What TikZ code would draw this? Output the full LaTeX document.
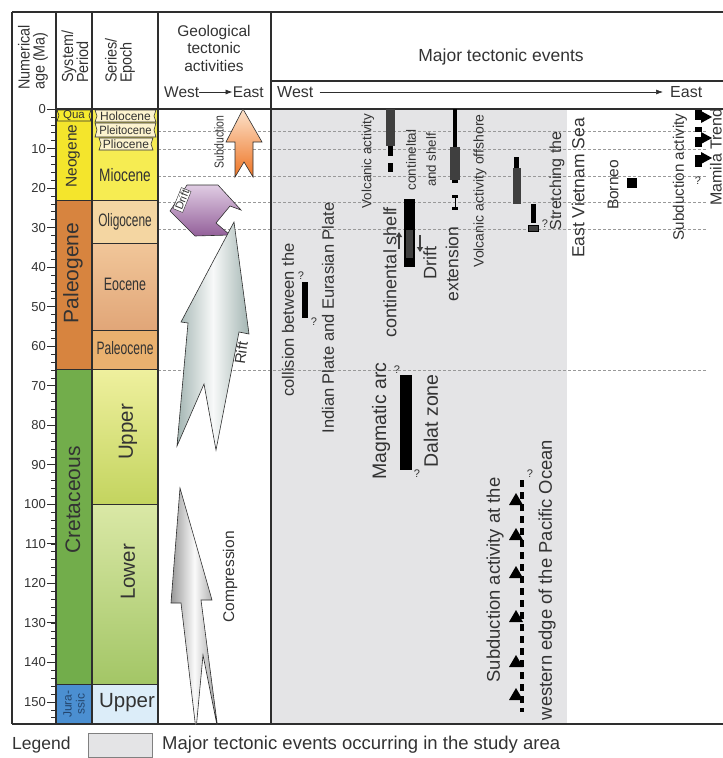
\documentclass[tikz,border=0pt]{standalone}
\usepackage{fontspec}
\setmainfont{Liberation Sans}
\usetikzlibrary{arrows.meta}

\definecolor{txtgray}{HTML}{333333}
\definecolor{linegray}{HTML}{2E2E2E}
\definecolor{evgray}{HTML}{E4E4E6}
\definecolor{quaYellow}{HTML}{F7EC2E}
\definecolor{neoYellow}{HTML}{F4E52C}
\definecolor{mioYellow}{HTML}{F6EC52}
\definecolor{holoCream}{HTML}{FCF3CE}
\definecolor{paleoBrown}{HTML}{D7843F}
\definecolor{oligoTan}{HTML}{F4D6A2}
\definecolor{eoTop}{HTML}{F1C699}
\definecolor{eoBot}{HTML}{E1A678}
\definecolor{paleoceneTan}{HTML}{EAB16F}
\definecolor{cretGreen}{HTML}{72AD4B}
\definecolor{upTop}{HTML}{EFF09E}
\definecolor{upBot}{HTML}{C3D45F}
\definecolor{lowTop}{HTML}{DAE8A6}
\definecolor{lowBot}{HTML}{A3C666}
\definecolor{juraBlue}{HTML}{4B8FD1}
\definecolor{juraText}{HTML}{24466E}
\definecolor{juraPale}{HTML}{DCEDF9}
\definecolor{subTop}{HTML}{FCE3CC}
\definecolor{subBot}{HTML}{EE7424}
\definecolor{driftTop}{HTML}{E0CCE3}
\definecolor{driftBot}{HTML}{93609A}
\definecolor{riftSide}{HTML}{A3B5B2}
\definecolor{compSide}{HTML}{999999}
\definecolor{barGray}{HTML}{3F3F3F}

\newcommand{\fsz}[2]{\fontsize{#1}{#2}\selectfont}

\tikzset{
  frameline/.style={linegray, line width=1.1pt},
  ageline/.style={gray!80, densely dashed, line width=0.5pt},
  vlabel/.style={rotate=90, inner sep=0pt, text=txtgray},
  hlabel/.style={inner sep=0pt, text=txtgray},
  qmark/.style={inner sep=0pt, text=txtgray, font=\fsz{11}{12}},
  epochbox/.style={draw=linegray, line width=0.6pt, fill=holoCream},
  evbar/.style={fill=black},
  evbargray/.style={fill=barGray},
  tooth/.style={fill=black},
  bigarrow/.style={draw=linegray, line width=0.6pt},
  halfarrow/.style={-{Triangle[length=5pt,width=6pt]}, barGray, line width=1.5pt}
}

\begin{document}
\begin{tikzpicture}[x=1pt, y=-1pt]
\useasboundingbox (0,0) rectangle (723,758);

\fill[neoYellow] (56,109) rectangle (92,200);
\fill[paleoBrown] (56,200) rectangle (92,369);
\fill[cretGreen] (56,369) rectangle (92,684);
\fill[juraBlue] (56,684) rectangle (92,724);
\fill[mioYellow] (92,109) rectangle (158,200);
\fill[oligoTan] (92,200) rectangle (158,243);
\shade[top color=eoTop, bottom color=eoBot] (92,243) rectangle (158,330);
\fill[paleoceneTan] (92,330) rectangle (158,369);
\shade[top color=upTop, bottom color=upBot] (92,369) rectangle (158,504);
\shade[top color=lowTop, bottom color=lowBot] (92,504) rectangle (158,684);
\fill[juraPale] (92,684) rectangle (158,724);
\fill[evgray] (271,109) rectangle (567,724);

\foreach \yy in {200,369,684} \draw[linegray, line width=0.8pt] (56,\yy) -- (158,\yy);
\foreach \yy in {243,330,504} \draw[linegray, line width=0.8pt] (92,\yy) -- (158,\yy);
\foreach \yy in {131,149,176,202,229,370} \draw[ageline] (158,\yy) -- (707,\yy);

\draw[frameline] (12,12) -- (723,12);
\draw[frameline] (12,724) -- (723,724);
\draw[frameline] (271,81) -- (723,81);
\draw[frameline] (56,109) -- (723,109);
\foreach \xx in {12,56,92,158,271} \draw[frameline] (\xx,12) -- (\xx,724);

\foreach \a in {0,2,...,154} \draw[linegray, line width=0.6pt] (51,{109+3.953*\a}) -- (56,{109+3.953*\a});
\foreach \a in {0,10,...,150} {
  \draw[linegray, line width=0.8pt] (47,{109+3.953*\a}) -- (56,{109+3.953*\a});
  \node[hlabel, anchor=east, font=\fsz{13}{14}] (age\a) at (46,{109+3.953*\a}) {\a};
}

\node[vlabel, anchor=west, align=left, font=\fsz{16}{15}, xscale=0.9] (ageHead) at (33,90) {Numerical\\age (Ma)};
\node[vlabel, anchor=west, align=left, font=\fsz{16}{15}, xscale=0.9] (periodHead) at (75,83) {System/\\Period};
\node[vlabel, anchor=west, align=left, font=\fsz{16}{15}, xscale=0.9] (seriesHead) at (120,83) {Series/\\Epoch};
\node[hlabel, align=center, font=\fsz{15.5}{17.5}] (geoHead) at (214,48) {Geological\\tectonic\\activities};
\node[hlabel, anchor=west, font=\fsz{15.5}{16}] (westGeo) at (164,92) {West};
\node[hlabel, anchor=east, font=\fsz{15.5}{16}] (eastGeo) at (264,92) {East};
\draw[-{Latex[length=7pt,width=5pt]}, linegray, line width=0.8pt] (westGeo.east) -- (eastGeo.west);
\node[hlabel, font=\fsz{17.5}{18}] (majorHead) at (501,57) {Major tectonic events};
\node[hlabel, anchor=west, font=\fsz{16}{17}] (westMajor) at (277,92) {West};
\node[hlabel, anchor=west, font=\fsz{16}{17}] (eastMajor) at (670,92) {East};
\draw[-{Latex[length=7pt,width=5pt]}, linegray, line width=0.6pt] ([xshift=6pt]westMajor.east) -- ([xshift=-7pt]eastMajor.west);

\draw[epochbox, fill=quaYellow] (57,110) -- (91,110) -- (89,115.5) -- (91,121) -- (57,121) -- (59,115.5) -- cycle;
\node[hlabel, font=\fsz{11.5}{12}] (quaLabel) at (74,115.5) {Qua};
\node[vlabel, font=\fsz{15.5}{16}] (neoLabel) at (73,156) {Neogene};
\node[vlabel, font=\fsz{21}{22}] (paleoLabel) at (73,273) {Paleogene};
\node[vlabel, font=\fsz{21}{22}] (cretLabel) at (73,500) {Cretaceous};
\node[vlabel, align=center, text=juraText, font=\fsz{12}{13}] (juraLabel) at (74,704) {Jura-\\ssic};

\draw[epochbox] (95,110) -- (156,110) -- (154,116) -- (156,122) -- (95,122) -- (97,116) -- cycle;
\draw[epochbox] (95,123) -- (156,123) -- (154,130) -- (156,137) -- (95,137) -- (97,130) -- cycle;
\draw[epochbox] (99,138) -- (153,138) -- (151,144) -- (153,150) -- (99,150) -- (101,144) -- cycle;
\node[hlabel, font=\fsz{12}{13}] (holoLabel) at (125.5,116) {Holocene};
\node[hlabel, font=\fsz{12}{13}, xscale=0.93] (pleiLabel) at (125.5,130) {Pleitocene};
\node[hlabel, font=\fsz{12}{13}] (plioLabel) at (126,144) {Pliocene};
\node[hlabel, font=\fsz{18}{19}, xscale=0.76] (mioLabel) at (125,175) {Miocene};
\node[hlabel, font=\fsz{18}{19}, xscale=0.66] (oligoLabel) at (125,222) {Oligocene};
\node[hlabel, font=\fsz{18}{19}, xscale=0.69] (eoLabel) at (125,284) {Eocene};
\node[hlabel, font=\fsz{18}{19}, xscale=0.67] (paleoceneLabel) at (125,348) {Paleocene};
\node[vlabel, font=\fsz{20.5}{21}] (upperLabel) at (128,432) {Upper};
\node[vlabel, font=\fsz{20.5}{21}] (lowerLabel) at (128,572) {Lower};
\node[hlabel, font=\fsz{20.5}{21}] (juraUpperLabel) at (127,703) {Upper};

\draw[bigarrow, top color=subTop, bottom color=subBot] (243,109) -- (262,142) -- (253,142) -- (253,177) -- (244,162) -- (235,177) -- (235,142) -- (226,142) -- cycle;
\node[vlabel, font=\fsz{13}{14}, xscale=0.8] (subLabel) at (219,142) {Subduction};
\draw[bigarrow, top color=driftTop, bottom color=driftBot] (187,185) -- (218,185) -- (241,210) -- (230,206) -- (216,223) -- (230,235) -- (195,236) -- (170,211) -- cycle;
\node[draw=linegray, fill=white, rotate=68, inner sep=1.2pt, text=txtgray, font=\fsz{11}{12}] (driftLabel) at (182,200) {Drift};
\draw[bigarrow, left color=riftSide, right color=riftSide, middle color=white!92!riftSide] (234,222) -- (249,334) -- (239,332) -- (216,450) -- (204,384) -- (177,446) -- (188,323) -- (181,322) -- cycle;
\node[inner sep=0pt, rotate=82, text=txtgray, font=\fsz{15}{16}] (riftLabel) at (241,353) {Rift};
\begin{scope}
\clip (158,109) rectangle (271,724);
\draw[bigarrow, left color=compSide, right color=compSide, middle color=white!95!compSide] (180,488) -- (212,600) -- (201,600) -- (218,730) -- (203,655) -- (196,730) -- (181,603) -- (171,603) -- cycle;
\end{scope}
\node[vlabel, font=\fsz{15.5}{17}] (compLabel) at (230,577) {Compression};

\node[vlabel, font=\fsz{16.5}{17}] (collisionText) at (288,320) {collision between the};
\node[vlabel, font=\fsz{16.5}{17}] (plateText) at (328,318) {Indian Plate and Eurasian Plate};
\fill[evbar] (302,282) rectangle (308,318);
\node[qmark] (collQTop) at (301,276) {?};
\node[qmark] (collQBot) at (314,322) {?};

\node[vlabel, font=\fsz{13.4}{14}] (volcText) at (368,161) {Volcanic activity};
\fill[evbargray] (386,109) rectangle (395,146);
\fill[evbar] (388,146) rectangle (393,156);
\fill[evbar] (388,163) rectangle (393,172);
\node[vlabel, font=\fsz{18}{19}] (shelfText) at (390,272) {continental shelf};
\node[vlabel, font=\fsz{13.5}{14}] (contText) at (411,160) {contineltal};
\node[vlabel, font=\fsz{13.3}{14}] (andShelfText) at (431,160) {and shelf};

\fill[evbar] (404,199) rectangle (415,267);
\fill[evbargray] (406,230) rectangle (413,258);
\draw[halfarrow] (399,249) -- (399,232);
\draw[halfarrow] (420,235) -- (420,252);
\node[vlabel, font=\fsz{18}{19}] (driftText) at (430,263) {Drift};
\node[vlabel, font=\fsz{17.5}{18}] (extText) at (452,264) {extension};
\fill[evbar] (453,109) rectangle (457,147);
\fill[evbargray] (450,147) rectangle (460,180);
\fill[evbar] (452,180) rectangle (458,183);
\fill[evbar] (452,195) rectangle (458,198);
\fill[evbar] (452,207) rectangle (458,210);
\draw[black, line width=1pt] (455,198) -- (455,207);

\node[vlabel, font=\fsz{14}{15}] (offshoreText) at (480,191) {Volcanic activity offshore};
\fill[evbar] (514,157) rectangle (519,168);
\fill[evbargray] (513,168) rectangle (521,204);
\fill[evbar] (531,204) rectangle (536,223);
\draw[black, fill=barGray, line width=0.8pt] (528,225) rectangle (538,231);
\node[qmark] (offQ) at (545,224) {?};
\node[vlabel, font=\fsz{16}{17}] (stretchText) at (557,181) {Stretching the};
\node[vlabel, font=\fsz{17.5}{18}] (seaText) at (578,188) {East Vietnam Sea};

\node[vlabel, font=\fsz{15.5}{16}] (borneoText) at (613,185) {Borneo};
\fill[evbar] (627,178) rectangle (637,188);

\node[vlabel, font=\fsz{15.2}{16}] (subActText) at (680,177) {Subduction activity};
\foreach \ya/\yb in {110/120, 127/132, 137/147, 155/167} \fill[evbar] (695,\ya) rectangle (702,\yb);
\foreach \yt in {117,138,158} \fill[tooth] (701,{\yt-6}) -- (712,\yt) -- (701,{\yt+6}) -- cycle;
\node[qmark] (mamQ) at (698,181) {?};
\node[vlabel, font=\fsz{16}{17}] (mamilaText) at (716,157) {Mamila Trend};

\node[vlabel, font=\fsz{19.5}{20}] (magText) at (381,421) {Magmatic arc};
\node[vlabel, font=\fsz{19.5}{20}] (dalatText) at (431,421) {Dalat zone};
\fill[evbar] (400,375) rectangle (412,470);
\node[qmark] (dalatQTop) at (397,370) {?};
\node[qmark] (dalatQBot) at (417,474) {?};

\node[vlabel, font=\fsz{18.4}{19}] (pacText) at (495,580) {Subduction activity at the};
\node[vlabel, font=\fsz{18.4}{19}] (pacEdgeText) at (547,580) {western edge of the Pacific Ocean};
\draw[black, line width=4pt, dash pattern=on 7pt off 5pt] (522,480) -- (522,712);
\foreach \yt in {500,535,573,617,662,695} \fill[tooth] (516,{\yt-7}) -- (523,{\yt+5}) -- (509,{\yt+5}) -- cycle;
\node[qmark] (pacQ) at (530,474) {?};

\node[hlabel, anchor=west, font=\fsz{17.5}{18}] (legendWord) at (12,745) {Legend};
\node[draw=gray, fill=evgray, minimum width=64pt, minimum height=24pt, inner sep=0pt] (legendBox) at (120,745) {};
\node[hlabel, anchor=west, font=\fsz{18.5}{19}] (legendText) at (162,745) {Major tectonic events occurring in the study area};
\end{tikzpicture}
\end{document}
